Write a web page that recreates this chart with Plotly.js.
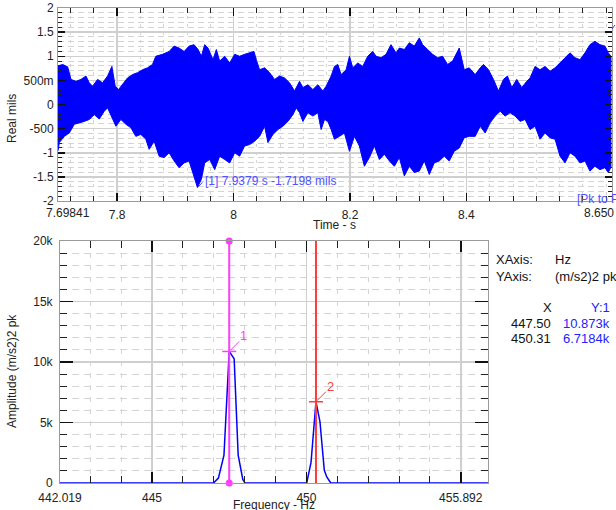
<!DOCTYPE html>
<html><head><meta charset="utf-8">
<script src="https://cdn.plot.ly/plotly-3.0.1.min.js"></script>
<style>html,body{margin:0;padding:0;background:#fff}#chart{width:616px;height:510px}</style>
</head><body><div id="chart"></div>
<script>
// ---------- Time waveform envelope ----------
const upperTime = [7.6984,7.7064,7.7150,7.7207,7.7293,7.7378,7.7464,7.7521,7.7578,7.7664,7.7750,7.7836,7.7910,7.7967,7.8024,7.8093,7.8178,7.8264,7.8350,7.8436,7.8521,7.8607,7.8664,7.8779,7.8893,7.8979,7.9064,7.9150,7.9236,7.9321,
7.9390,7.9447,7.9504,7.9561,7.9647,7.9704,7.9761,7.9847,7.9933,8.0019,8.0104,8.0190,8.0276,8.0350,8.0390,8.0447,8.0533,8.0619,8.0704,8.0790,8.0876,8.0961,8.1047,8.1133,8.1190,8.1276,8.1362,8.1447,8.1533,8.1590,8.1676,8.1733,
8.1790,8.1847,8.1933,8.1990,8.2047,8.2133,8.2219,8.2304,8.2390,8.2447,8.2533,8.2619,8.2704,8.2790,8.2847,8.2933,8.3019,8.3104,8.3190,8.3247,8.3333,8.3419,8.3504,8.3590,8.3676,8.3762,8.3876,8.3962,8.4047,
8.4150,8.4236,8.4293,8.4379,8.4464,8.4550,8.4636,8.4704,8.4779,8.4864,8.4950,8.5036,8.5093,8.5179,8.5264,8.5350,8.5436,8.5522,8.5607,8.5693,8.5779,8.5864,8.5950,8.6036,8.6121,8.6207,8.6293,8.6379,8.6436,8.6482];
const upperMils = [0.80,0.83,0.78,0.52,0.48,0.52,0.59,0.45,0.38,0.52,0.45,0.59,0.79,0.38,0.31,0.41,0.55,0.62,0.66,0.72,0.76,0.83,1.00,1.04,1.10,1.21,1.17,1.10,1.21,1.24,
1.14,1.00,1.24,1.17,0.93,1.14,0.90,1.00,0.86,1.04,1.00,1.04,1.07,1.10,0.93,0.72,0.76,0.66,0.52,0.59,0.55,0.45,0.28,0.48,0.35,0.41,0.31,0.41,0.28,0.38,0.59,0.79,
0.83,0.62,0.72,1.00,0.76,0.86,0.79,1.00,1.10,1.00,0.97,1.04,1.24,1.07,1.17,1.14,1.28,1.21,1.38,1.24,1.14,1.04,0.97,1.00,0.83,0.90,1.17,0.72,0.76,
0.62,0.76,0.83,0.72,0.52,0.28,0.52,0.59,0.35,0.52,0.35,0.48,0.55,0.79,0.72,0.79,0.69,0.76,0.86,0.97,1.07,0.97,0.93,1.07,1.24,1.31,1.24,1.21,1.07,1.00];
const lowerTime = [7.6984,7.7007,7.7093,7.7178,7.7264,7.7350,7.7436,7.7521,7.7607,7.7693,7.7778,7.7836,7.7893,7.7979,7.8064,7.8150,7.8236,7.8321,7.8407,7.8493,7.8550,7.8636,7.8721,7.8807,7.8893,7.8979,7.9064,7.9150,7.9236,7.9321,7.9379,
7.9447,7.9504,7.9590,7.9676,7.9761,7.9847,7.9933,8.0019,8.0104,8.0190,8.0276,8.0362,8.0447,8.0533,8.0590,8.0676,8.0762,8.0847,8.0933,8.1019,8.1076,8.1133,8.1190,8.1276,8.1362,8.1447,8.1504,8.1562,8.1619,8.1676,8.1733,
8.1819,8.1904,8.1990,8.2076,8.2161,8.2247,8.2333,8.2419,8.2504,8.2590,8.2676,8.2762,8.2847,8.2933,8.3019,8.3104,8.3190,8.3276,8.3362,8.3447,8.3533,8.3619,8.3704,8.3790,8.3876,8.3962,8.4047,
8.4150,8.4236,8.4321,8.4407,8.4493,8.4579,8.4664,8.4750,8.4836,8.4921,8.5007,8.5093,8.5179,8.5264,8.5350,8.5436,8.5522,8.5607,8.5693,8.5779,8.5864,8.5950,8.6036,8.6121,8.6207,8.6293,8.6379,8.6436,8.6482];
const lowerMils = [-0.96,-0.79,-0.66,-0.59,-0.41,-0.38,-0.35,-0.31,-0.21,-0.30,-0.14,-0.07,-0.21,-0.45,-0.31,-0.41,-0.48,-0.66,-0.62,-0.72,-0.93,-0.76,-1.07,-1.10,-1.00,-1.17,-1.31,-1.21,-1.17,-1.48,-1.72,
-1.55,-1.21,-1.14,-1.35,-1.07,-1.14,-1.21,-1.00,-1.07,-0.86,-0.83,-0.76,-0.66,-0.45,-0.79,-0.62,-0.52,-0.45,-0.35,-0.21,-0.07,-0.17,-0.35,-0.17,-0.24,-0.17,-0.52,-0.31,-0.35,-0.52,-0.72,
-0.66,-0.59,-0.97,-0.66,-0.86,-1.28,-1.10,-0.86,-1.14,-1.03,-1.17,-1.28,-1.10,-1.48,-1.28,-1.41,-1.38,-1.17,-1.45,-1.21,-1.17,-1.07,-1.17,-0.97,-0.90,-0.69,-0.66,
-0.66,-0.45,-0.59,-0.38,-0.24,-0.14,-0.24,-0.17,-0.24,-0.35,-0.31,-0.52,-0.45,-0.72,-0.59,-0.69,-0.72,-1.07,-1.21,-1.00,-1.07,-1.21,-1.17,-1.38,-1.28,-1.35,-1.31,-1.41,-1.30];

const timeRange = [7.69841, 8.650];
const timeTickVals = [7.69841, 7.8, 8, 8.2, 8.4, 8.650];
const timeTickText = ['', '7.8', '8', '8.2', '8.4', ''];
const timeEndText = ['7.69841', '8.650'];
const milsTickVals = [-2, -1.5, -1, -0.5, 0, 0.5, 1, 1.5, 2];
const milsTickText = ['-2', '-1.5', '-1', '-500', '0', '500m', '1', '1.5', '2'];
const timeCursor = [7.9379];
const milsCursor = [-1.7198];

// ---------- Spectrum ----------
const freqHz = [442.019, 446.99, 447.15, 447.33, 447.50, 447.66, 447.79, 447.94, 448.01, 450.01, 450.15, 450.31, 450.44, 450.58, 450.66, 450.79, 455.892];
const ampPk  = [0, 0, 400, 2300, 10873, 10270, 2300, 300, 0, 0, 1700, 6718.4, 5050, 1050, 500, 0, 0];
const freqRange = [442.019, 455.892];
const freqTickVals = [442.019, 445, 450, 455];
const freqTickText = ['442.019', '445', '450', '455.892'];
const ampTickVals = [0, 5000, 10000, 15000, 20000];
const ampTickText = ['0', '5k', '10k', '15k', '20k'];
const cursorFreq = [447.50, 450.31];
const cursorAmp = [10873, 6718.4];
const cursorAmpText = ['10.873k', '6.7184k'];
const cursorColors = ['#ff3cff', '#ff3a3a'];

const W = 616, H = 510;
const FONT = 'Liberation Sans, Arial, sans-serif';
const px = v => v / W;
const py = v => 1 - v / H;

function axis(extra, majorLen, minorLen, tick0, dtick, dash) {
  return Object.assign({
    showline: true, linecolor: '#9a9a9a', linewidth: 1, mirror: 'ticks',
    ticks: 'inside', ticklen: majorLen, tickwidth: 1.5, tickcolor: '#111',
    showgrid: true, gridcolor: '#cfcfcf', gridwidth: 1.5, zeroline: false,
    tickfont: { family: FONT, size: 12, color: '#222' },
    tickmode: 'array', fixedrange: true,
    minor: { tickmode: 'linear', tick0: tick0, dtick: dtick, ticks: 'inside', ticklen: minorLen, tickwidth: 1, tickcolor: '#222',
             showgrid: true, gridcolor: '#d4d4d4', gridwidth: 1, griddash: dash }
  }, extra);
}

const waveX = upperTime.concat(lowerTime.slice().reverse());
const waveY = upperMils.concat(lowerMils.slice().reverse());

const traces = [
  { x: waveX, y: waveY, xaxis: 'x', yaxis: 'y', mode: 'lines', fill: 'toself', fillcolor: '#0000ff',
    line: { color: '#0000ff', width: 1 }, hoverinfo: 'skip' },
  { x: freqHz, y: ampPk, xaxis: 'x2', yaxis: 'y2', mode: 'lines', line: { color: '#0000ff', width: 1.5 }, hoverinfo: 'skip' },
  { x: [cursorFreq[0], cursorFreq[0]], y: [ampTickVals[0], ampTickVals[ampTickVals.length - 1]], xaxis: 'x2', yaxis: 'y2',
    mode: 'markers', marker: { color: cursorColors[0], size: 7, symbol: 'circle' }, cliponaxis: false, hoverinfo: 'skip' }
];

const shapes = [];
const annotations = [];
cursorFreq.forEach((f, i) => {
  shapes.push({ type: 'line', xref: 'x2', yref: 'y2 domain', x0: f, x1: f, y0: 0, y1: 1, line: { color: cursorColors[i], width: 2 } });
  shapes.push({ type: 'line', xref: 'x2', yref: 'y2', xsizemode: 'pixel', xanchor: f, x0: -7, x1: 7, y0: cursorAmp[i], y1: cursorAmp[i],
                line: { color: cursorColors[i], width: 1.5 } });
  shapes.push({ type: 'line', xref: 'x2', yref: 'y2', xsizemode: 'pixel', ysizemode: 'pixel', xanchor: f, yanchor: cursorAmp[i],
                x0: 1, x1: 10, y0: 1, y1: 10, line: { color: cursorColors[i], width: 1 } });
  annotations.push({ xref: 'x2', yref: 'y2', x: f, y: cursorAmp[i], text: String(i + 1), showarrow: false,
                     xanchor: 'left', yanchor: 'bottom', xshift: 9, yshift: 6, font: { family: FONT, size: 13, color: cursorColors[i] } });
});
// top cursor
shapes.push({ type: 'line', xref: 'x', yref: 'y', xsizemode: 'pixel', ysizemode: 'pixel', xanchor: timeCursor[0], yanchor: milsCursor[0],
              x0: 0, x1: 5, y0: 0, y1: 5, line: { color: '#4040ff', width: 1 } });
annotations.push({ xref: 'x', yref: 'y', x: timeCursor[0], y: milsCursor[0], showarrow: false, xanchor: 'left', yanchor: 'middle',
                   xshift: 6, yshift: 6, text: '[1] ' + timeCursor[0] + ' s ' + milsCursor[0] + ' mils',
                   font: { family: FONT, size: 12, color: '#5050ff' } });
// small mark of second cursor at top-right edge
shapes.push({ type: 'line', xref: 'paper', yref: 'paper', x0: px(612), y0: py(29), x1: px(615), y1: py(25), line: { color: '#4040ff', width: 1 } });
annotations.push({ xref: 'paper', yref: 'paper', x: px(575), y: py(199), xanchor: 'left', yanchor: 'middle', showarrow: false,
                   text: '[Pk to Pk]', font: { family: FONT, size: 12, color: '#5050ff' } });
// end labels of the time axis, nudged inside like the reference
annotations.push({ xref: 'x', yref: 'paper', x: timeRange[0], y: py(213), xanchor: 'left', yanchor: 'middle', xshift: -14, showarrow: false,
                   text: timeEndText[0], font: { family: FONT, size: 12, color: '#222' } });
annotations.push({ xref: 'x', yref: 'paper', x: timeRange[1], y: py(213), xanchor: 'right', yanchor: 'middle', xshift: 4, showarrow: false,
                   text: timeEndText[1], font: { family: FONT, size: 12, color: '#222' } });
// axis titles
const titleFont = { family: FONT, size: 12, color: '#222' };
annotations.push({ xref: 'paper', yref: 'paper', x: px(335), y: py(225), xanchor: 'center', yanchor: 'middle', showarrow: false, text: 'Time - s', font: titleFont });
annotations.push({ xref: 'paper', yref: 'paper', x: px(12), y: py(119), xanchor: 'center', yanchor: 'middle', textangle: -90, showarrow: false, text: 'Real mils', font: titleFont });
annotations.push({ xref: 'paper', yref: 'paper', x: px(274), y: py(505), xanchor: 'center', yanchor: 'middle', showarrow: false, text: 'Frequency - Hz', font: titleFont });
annotations.push({ xref: 'paper', yref: 'paper', x: px(12), y: py(371), xanchor: 'center', yanchor: 'middle', textangle: -90, showarrow: false, text: 'Amplitude (m/s2)2 pk', font: titleFont });
// right info panel
const infoFont = { family: FONT, size: 13, color: '#111' };
const blueFont = { family: FONT, size: 13, color: '#2222ff' };
function note(x, y, t, anchor, font) {
  annotations.push({ xref: 'paper', yref: 'paper', x: px(x), y: py(y), xanchor: anchor, yanchor: 'middle', showarrow: false, text: t, font: font });
}
note(494, 259, 'XAxis:', 'left', infoFont);
note(553, 259, 'Hz', 'left', infoFont);
note(494, 276, 'YAxis:', 'left', infoFont);
note(553, 276, '(m/s2)2 pk', 'left', infoFont);
note(547, 307, 'X', 'center', infoFont);
note(612, 307, 'Y:1', 'right', blueFont);
cursorFreq.forEach((f, i) => {
  note(553, 323 + i * 15.6, f.toFixed(2), 'right', infoFont);
  note(612, 323 + i * 15.6, cursorAmpText[i], 'right', blueFont);
});

const layout = {
  width: W, height: H, margin: { l: 0, r: 0, t: 0, b: 0 }, paper_bgcolor: '#fff', plot_bgcolor: '#fff', showlegend: false,
  font: { family: FONT, size: 12, color: '#222' },
  xaxis: axis({ domain: [px(58), px(612)], anchor: 'y', range: timeRange, tickvals: timeTickVals, ticktext: timeTickText, ticklabelstandoff: 3 },
              8, 5, 7.8, 0.04, '3px,5px'),
  yaxis: axis({ domain: [py(201), py(8)], anchor: 'x', range: [-2, 2], tickvals: milsTickVals, ticktext: milsTickText, ticklabelstandoff: 1 },
              7, 4, 0, 0.1, '6px,4px'),
  xaxis2: axis({ domain: [px(60), px(488.3)], anchor: 'y2', range: freqRange, tickvals: freqTickVals, ticktext: freqTickText, ticklabelstandoff: 4 },
               11, 7, 445, 1, '5px,7px'),
  yaxis2: axis({ domain: [py(483), py(241)], anchor: 'x2', range: [0, 20000], tickvals: ampTickVals, ticktext: ampTickText, ticklabelstandoff: 4 },
               13, 7, 0, 1000, '7px,5px'),
  shapes: shapes, annotations: annotations
};

Plotly.newPlot('chart', traces, layout, { staticPlot: true, displayModeBar: false });
</script></body></html>
